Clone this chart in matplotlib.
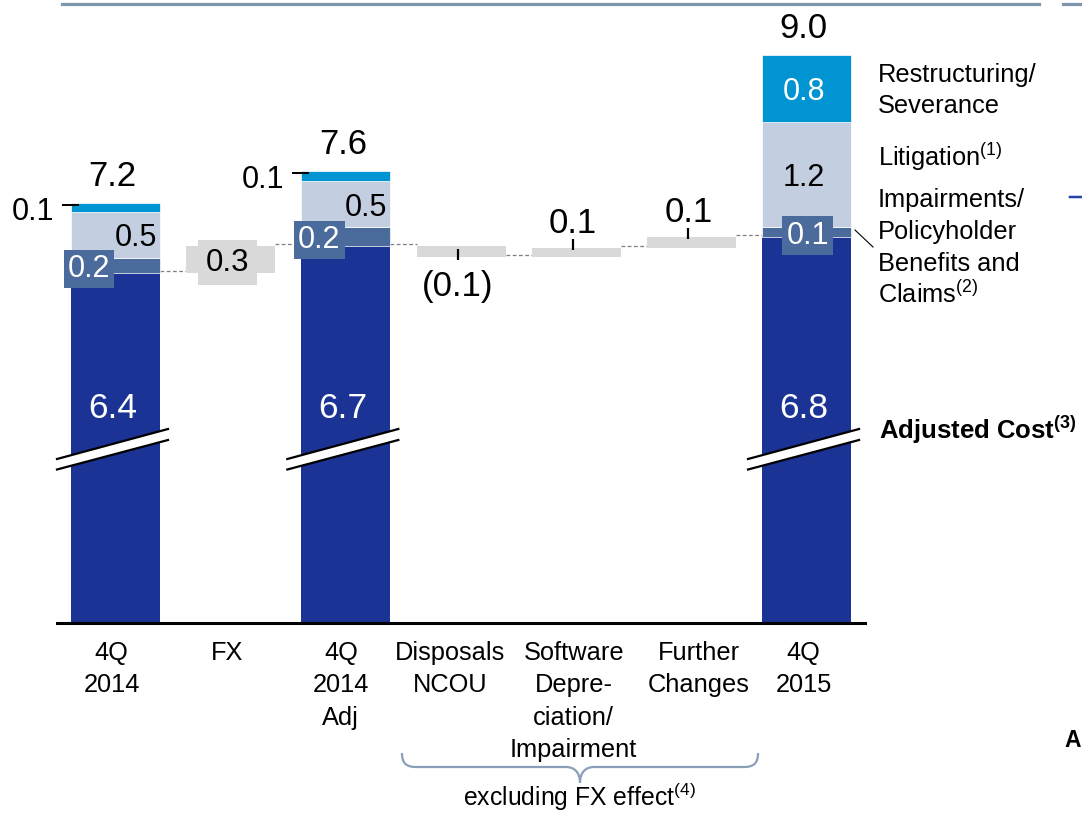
import matplotlib
matplotlib.use("Agg")
import matplotlib.pyplot as plt
from matplotlib.transforms import Affine2D, blended_transform_factory
from matplotlib.path import Path
from matplotlib.patches import PathPatch, Polygon
from matplotlib.lines import Line2D

plt.rcParams['font.family'] = ['Liberation Sans', 'DejaVu Sans']
plt.rcParams['mathtext.fontset'] = 'custom'
plt.rcParams['mathtext.rm'] = 'Liberation Sans'
plt.rcParams['mathtext.bf'] = 'Liberation Sans:bold'
plt.rcParams['mathtext.default'] = 'regular'

# ---------------- data ----------------
categories = ["4Q\n2014", "FX", "4Q\n2014\nAdj", "Disposals\nNCOU",
              "Software\nDepre-\nciation/\nImpairment", "Further\nChanges", "4Q\n2015"]
total_idx = [0, 2, 6]
adjusted_cost = [6.40, 6.72, 6.82]
impairments = [0.18, 0.22, 0.12]
litigation = [0.54, 0.54, 1.24]
restructuring = [0.10, 0.12, 0.78]
delta_idx = [1, 3, 4, 5]
deltas = [0.32, -0.13, 0.10, 0.13]
legend_labels = ["Restructuring/\nSeverance", "Litigation$^{(1)}$",
                 "Impairments/\nPolicyholder\nBenefits and\nClaims$^{(2)}$"]
base_label = "Adjusted Cost$^{(3)}$"
bracket_label = "excluding FX effect$^{(4)}$"

# ---------------- style / layout ----------------
DARK = "#1b3395"
MID = "#4a6b9b"
LIGHT = "#c3cee0"
CYAN = "#0095d2"
GRAY = "#d9d9d9"
RULE = "#7f96aa"
BRACE = "#8a9fb8"
DASH = "#7f7f7f"

FS_TOTAL = 25
FS_BASE = 25.5
FS_SEG = 22
FS_FX = 22.5
FS_DELTA = 25
FS_CAT = 18.3
FS_LEG = 18.3
FS_BOLD = 18.5
FS_BRACKET = 17.8

W, H = 1082, 814
PPU = 85.0
SLOT = 115.17
BASE_PX = 623
AX_L, AX_R = 57, 865
FIRST_C = 115.5
YBOT = 2.282
BW = 89 / SLOT
TXT_DX = -3

fig = plt.figure(figsize=(W / 100, H / 100), dpi=100)
ax = fig.add_axes([AX_L / W, (H - BASE_PX) / H, (AX_R - AX_L) / W, BASE_PX / H])
x0 = -(FIRST_C - AX_L) / SLOT
ax.set_xlim(x0, x0 + (AX_R - AX_L) / SLOT)
ax.set_ylim(YBOT, YBOT + BASE_PX / PPU)
for s in ['left', 'right', 'top']:
    ax.spines[s].set_visible(False)
ax.spines['bottom'].set_linewidth(2.2)
ax.spines['bottom'].set_zorder(6)
ax.set_xticks([])
ax.set_yticks([])
ax.patch.set_alpha(0)

PXT = Affine2D().scale(1 / W, -1 / H).translate(0, 1) + fig.transFigure
XDATA_YPX = blended_transform_factory(ax.transData, PXT)


def pt(v):
    return v * 0.72


def dy(v):
    return v / PPU


def dx(v):
    return v / SLOT


def ypx(p):
    return YBOT + (BASE_PX - p) / PPU


# ---------------- stacked totals ----------------
b1 = list(adjusted_cost)
b2 = [a + b for a, b in zip(b1, impairments)]
b3 = [a + b for a, b in zip(b2, litigation)]
tops = [a + b for a, b in zip(b3, restructuring)]

ax.bar(total_idx, adjusted_cost, BW, color=DARK, zorder=2)
ax.bar(total_idx, impairments, BW, bottom=b1, color=MID, zorder=2, edgecolor='white', linewidth=0.5)
ax.bar(total_idx, litigation, BW, bottom=b2, color=LIGHT, zorder=2, edgecolor='white', linewidth=0.5)
ax.bar(total_idx, restructuring, BW, bottom=b3, color=CYAN, zorder=2, edgecolor='white', linewidth=0.5)

for k, c in enumerate(total_idx):
    left = c - BW / 2
    # total
    ax.annotate(f"{tops[k]:.1f}", (c, tops[k]), xytext=(pt(TXT_DX), pt(17)),
                textcoords='offset points', ha='center', va='baseline', fontsize=FS_TOTAL)
    # adjusted cost
    ax.text(c + dx(TXT_DX), ypx(405), f"{adjusted_cost[k]:.1f}", color='white',
            ha='center', va='center_baseline', fontsize=FS_BASE, zorder=5)
    # impairments
    ym = b1[k] + impairments[k] / 2
    xt = left + dx(18) if k < 2 else c + dx(1)
    ax.text(xt, ym, f"{impairments[k]:.1f}", color='white', ha='center', va='center_baseline',
            fontsize=FS_SEG, zorder=5,
            bbox=dict(boxstyle='square,pad=0.14', fc=MID, ec='none'))
    # litigation
    ym = b2[k] + litigation[k] / 2
    if k < 2:
        ax.text(c + BW / 2 - dx(3), ym, f"{litigation[k]:.1f}", ha='right',
                va='center_baseline', fontsize=FS_SEG, zorder=5)
    else:
        ax.text(c + dx(TXT_DX), ym, f"{litigation[k]:.1f}", ha='center',
                va='center_baseline', fontsize=FS_SEG, zorder=5)
    # restructuring
    if k < 2:
        ty = tops[k] - dy(2)
        ax.plot([left - dx(9), left + dx(8)], [ty, ty], color='black', lw=pt(2),
                zorder=6, clip_on=False, solid_capstyle='butt')
        ax.text(left - dx(17), ty - dy(3.5), f"{restructuring[k]:.1f}", ha='right',
                va='center_baseline', fontsize=FS_SEG, zorder=5)
    else:
        ax.text(c + dx(TXT_DX), b3[k] + restructuring[k] / 2, f"{restructuring[k]:.1f}",
                color='white', ha='center', va='center_baseline', fontsize=FS_SEG, zorder=5)
    # axis break marks
    bx0, bx1 = c - dx(58.5), c + dx(52.5)
    l1 = (ypx(459), ypx(429))
    l2 = (ypx(469.5), ypx(440))
    ax.add_patch(Polygon([(bx0, l1[0]), (bx1, l1[1]), (bx1, l2[1]), (bx0, l2[0])],
                         closed=True, fc='white', ec='none', zorder=3, clip_on=False))
    ax.plot([bx0, bx1], l1, color='black', lw=1.6, zorder=4, clip_on=False)
    ax.plot([bx0, bx1], l2, color='black', lw=1.6, zorder=4, clip_on=False)

# ---------------- waterfall deltas ----------------
tot_map = dict(zip(total_idx, adjusted_cost))
d_map = dict(zip(delta_idx, deltas))
level = None
for i in range(len(categories)):
    if i > 0:
        ax.plot([i - 1 + BW / 2, i - BW / 2], [level + dy(2), level + dy(2)], color=DASH,
                lw=0.9, ls=(0, (3, 2)), zorder=1)
    if i in tot_map:
        level = tot_map[i]
        continue
    d = d_map[i]
    start = level
    end = level + d
    lo, hi = min(start, end), max(start, end)
    ax.bar(i, hi - lo, BW, bottom=lo, color=GRAY, zorder=2)
    lab = f"{d:.1f}" if d >= 0 else f"({abs(d):.1f})"
    tx = i + dx(TXT_DX)
    if i == 1:
        ax.text(tx, (lo + hi) / 2, lab, ha='center', va='center_baseline', fontsize=FS_FX,
                zorder=5, bbox=dict(boxstyle='square,pad=0.24', fc=GRAY, ec='none'))
    elif d >= 0:
        ax.plot([tx, tx], [hi - dy(2), hi + dy(9)], color='black', lw=pt(2.2), zorder=5,
                solid_capstyle='butt')
        ax.text(tx, hi + dy(28), lab, ha='center', va='center_baseline', fontsize=FS_DELTA)
    else:
        ax.plot([tx, tx], [lo + dy(8), lo - dy(3)], color='black', lw=pt(2.2), zorder=5,
                solid_capstyle='butt')
        ax.text(tx, lo - dy(26), lab, ha='center', va='center_baseline', fontsize=FS_DELTA)
    level = end

# ---------------- category labels ----------------
LBL_DX = [-4, -4, -5, -11, -2.5, 7.5, -3]
for i, lab in enumerate(categories):
    for j, line in enumerate(lab.split('\n')):
        ax.text(i + dx(LBL_DX[i]), 660 + 32.3 * j, line, transform=XDATA_YPX,
                ha='center', va='baseline', fontsize=FS_CAT)


# ---------------- right-side legend ----------------
def multiline(x, y0, text, pitch, **kw):
    for j, line in enumerate(text.split('\n')):
        fig.text(x, y0 + pitch * j, line, transform=PXT, ha='left', va='baseline', **kw)


multiline(878, 82, legend_labels[0], 30.7, fontsize=FS_LEG)
multiline(878, 166, legend_labels[1], 32, fontsize=FS_LEG)
multiline(878, 207, legend_labels[2], 32, fontsize=FS_LEG)
fig.text(879, 439, base_label, transform=PXT, ha='left', va='baseline',
         fontsize=FS_BOLD, fontweight='bold')
fig.add_artist(Line2D([855, 873], [230, 247], transform=PXT, color='black', lw=0.8))

# ---------------- bracket ----------------
verts = [(402, 753), (402, 763), (406, 767), (416, 767),
         (566, 767),
         (574, 767), (580, 772), (580, 783),
         (580, 772), (586, 767), (594, 767),
         (744, 767),
         (754, 767), (758, 763), (758, 753)]
codes = [Path.MOVETO, Path.CURVE4, Path.CURVE4, Path.CURVE4,
         Path.LINETO,
         Path.CURVE4, Path.CURVE4, Path.CURVE4,
         Path.CURVE4, Path.CURVE4, Path.CURVE4,
         Path.LINETO,
         Path.CURVE4, Path.CURVE4, Path.CURVE4]
fig.add_artist(PathPatch(Path(verts, codes), transform=PXT, fill=False, ec=BRACE, lw=1.6))
fig.text(579, 806, bracket_label, transform=PXT, ha='center', va='baseline', fontsize=FS_BRACKET)

# ---------------- decorations ----------------
fig.add_artist(Line2D([62, 1039], [3.5, 3.5], transform=PXT, color=RULE, lw=pt(3.2)))
fig.add_artist(Line2D([1063, 1082], [3.5, 3.5], transform=PXT, color=RULE, lw=pt(3.2)))
fig.add_artist(Line2D([1070, 1082], [197, 197], transform=PXT, color="#2646a6", lw=pt(2.5)))
fig.text(1064, 747, "A", transform=PXT, ha='left', va='baseline', fontsize=16.5, fontweight='bold')

fig.savefig("out.png", dpi=100)
